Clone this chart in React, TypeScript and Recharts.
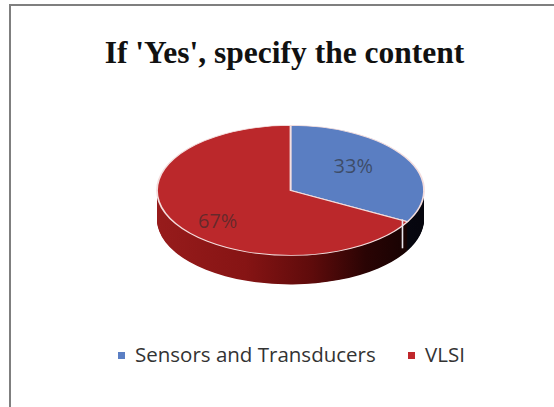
import React from 'react';
import { PieChart, Pie, Cell } from 'recharts';

// ---- data ----
const categories = ['Sensors and Transducers', 'VLSI'];
const values = [33, 67];
const topColors = ['#5A7EC2', '#BB282B'];
const sideFills = ['url(#sideBlue)', 'url(#sideRed)'];
const legendColors = ['#5B7FC4', '#C0282C'];
const title = "If 'Yes', specify the content";

// ---- layout ----
const W = 554;
const H = 407;
const CX = 285.5;
const CY = 188;
const RX = 133.5;
const RY = 65;
const DEPTH = 29;
const K = RY / RX;
const CYU = CY / K;
const DEPTHU = DEPTH / K;
const STEP = 1.5;
const layers: number[] = [];
for (let d = DEPTHU; d > 0; d -= STEP) layers.push(d);

const data = categories.map((name, i) => ({ name, value: values[i] }));

const RAD = Math.PI / 180;
const renderLabel = (p: any) => {
  const a = p.midAngle * RAD;
  const x = CX + 0.59 * RX * Math.cos(a);
  const ys = CY + 5 - 0.83 * RY * Math.sin(a);
  const yu = ys / K;
  const e = p.endAngle * RAD;
  const showEdge = Math.sin(e) < -0.01;
  const ex = CX + RX * Math.cos(e);
  const ey = CYU - RX * Math.sin(e);
  return (
    <g>
      {showEdge && (
        <line x1={ex} y1={ey} x2={ex} y2={ey + DEPTHU} stroke="#e8e4ec" strokeWidth={1.6} />
      )}
      <text
        transform={`translate(${x},${yu}) scale(1,${1 / K})`}
        textAnchor="middle"
        dominantBaseline="central"
        fontFamily="'Open Sans', sans-serif"
        fontSize={20}
        fill="#2b2b2b"
        fillOpacity={0.6}
      >
        {`${Math.round(p.percent * 100)}%`}
      </text>
    </g>
  );
};

export default function App() {
  return (
    <div
      style={{
        position: 'absolute',
        left: 0,
        top: 0,
        width: W,
        height: H,
        overflow: 'hidden',
        background: '#fff',
      }}
    >
      <div
        style={{
          position: 'absolute',
          left: 0,
          top: 0,
          width: W,
          height: H / K,
          transform: `scaleY(${K})`,
          transformOrigin: '0 0',
        }}
      >
        <PieChart width={W} height={H / K}>
          <defs>
            <linearGradient id="sideRed" gradientUnits="userSpaceOnUse" x1={CX - RX} y1={0} x2={CX + RX} y2={0}>
              <stop offset="0" stopColor="#981c1c" />
              <stop offset="0.35" stopColor="#861414" />
              <stop offset="0.6" stopColor="#5e0b0b" />
              <stop offset="0.8" stopColor="#2a0404" />
              <stop offset="1" stopColor="#120202" />
            </linearGradient>
            <linearGradient id="sideBlue" gradientUnits="userSpaceOnUse" x1={CX - RX} y1={0} x2={CX + RX} y2={0}>
              <stop offset="0" stopColor="#15152a" />
              <stop offset="1" stopColor="#06060e" />
            </linearGradient>
          </defs>
          {layers.map((d) => (
            <Pie
              key={d}
              data={data}
              dataKey="value"
              nameKey="name"
              cx={CX}
              cy={CYU + d}
              outerRadius={RX}
              startAngle={90}
              endAngle={-270}
              stroke="none"
              isAnimationActive={false}
              legendType="none"
            >
              {data.map((e, i) => (
                <Cell key={e.name} fill={sideFills[i]} />
              ))}
            </Pie>
          ))}
          <Pie
            data={data}
            dataKey="value"
            nameKey="name"
            cx={CX}
            cy={CYU}
            outerRadius={RX}
            startAngle={90}
            endAngle={-270}
            stroke="#f4dede"
            strokeWidth={1.8}
            label={renderLabel}
            labelLine={false}
            isAnimationActive={false}
          >
            {data.map((e, i) => (
              <Cell key={e.name} fill={topColors[i]} />
            ))}
          </Pie>
        </PieChart>
      </div>
      <svg width={W} height={H} style={{ position: 'absolute', left: 0, top: 0, pointerEvents: 'none' }}>
        <path d={`M 10 ${H + 10} V 5 H ${W + 10}`} fill="none" stroke="#7f7f7f" strokeWidth={2} />
        <text
          x={284.5}
          y={63}
          textAnchor="middle"
          fontFamily="'Liberation Serif', 'Times New Roman', serif"
          fontWeight="bold"
          fontSize={31.5}
          fill="#111"
        >
          {title}
        </text>
        {categories.map((c, i) => {
          const x0 = i === 0 ? 118 : 408;
          return (
            <g key={c}>
              <rect x={x0} y={352} width={7} height={7} fill={legendColors[i]} />
              <text
                x={x0 + 17}
                y={362}
                fontFamily="'Open Sans', sans-serif"
                fontSize={20.5}
                fill="#333"
              >
                {c}
              </text>
            </g>
          );
        })}
      </svg>
    </div>
  );
}
